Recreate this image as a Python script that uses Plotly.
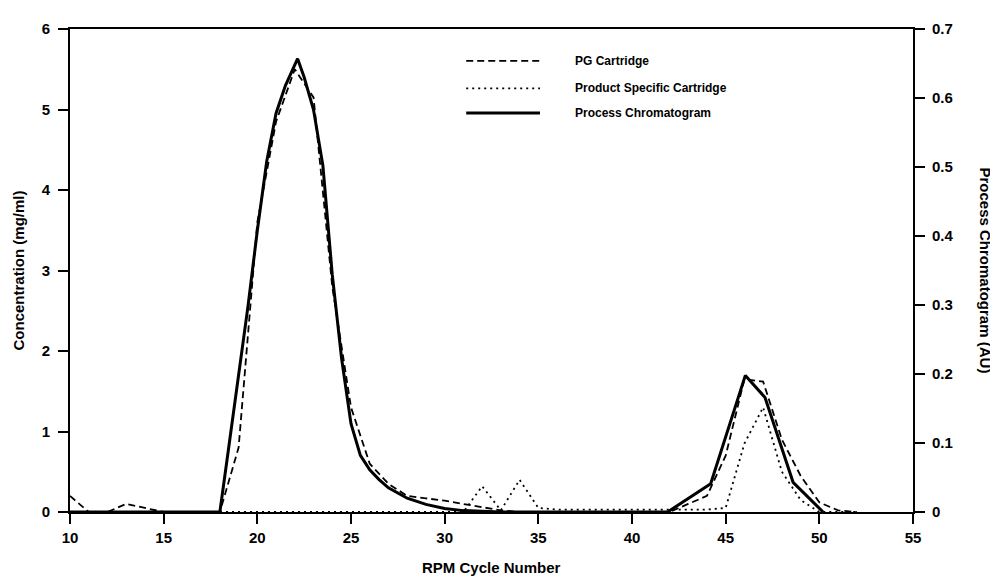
import plotly.graph_objects as go

# ---- data ----
cycles = list(range(10, 53))
pg_cartridge = [0.2, 0, 0, 0.1, 0.05, 0, 0, 0, 0, 0.8,
                3.6, 4.85, 5.5, 5.15, 2.8, 1.3, 0.6, 0.35, 0.2, 0.17,
                0.14, 0.1, 0.06, 0.02, 0, 0, 0, 0, 0, 0,
                0, 0, 0, 0.1, 0.2, 0.7, 1.65, 1.62, 0.9, 0.45,
                0.12, 0.02, 0]
product_specific = [0, 0, 0, 0, 0, 0, 0, 0, 0, 0,
                    0, 0, 0, 0, 0, 0, 0, 0, 0, 0,
                    0, 0, 0.32, 0.02, 0.4, 0.05, 0.03, 0.03, 0.03, 0.03,
                    0.03, 0.03, 0.03, 0.03, 0.03, 0.05, 0.85, 1.3, 0.5, 0.15,
                    0, 0, 0]
process_x = [10, 18, 18.5, 19, 19.5, 20, 20.5, 21, 21.5, 22.15, 22.5, 23, 23.5, 24,
             24.5, 25, 25.5, 26, 26.5, 27, 28, 29, 30, 31, 32, 33,
             41.9, 44.2, 46.05, 47.1, 48.6, 50.2]
process_au = [0, 0, 0.099, 0.198, 0.298, 0.408, 0.508, 0.578, 0.618, 0.657, 0.630, 0.583, 0.502, 0.344,
              0.222, 0.128, 0.082, 0.061, 0.047, 0.035, 0.020, 0.011, 0.005, 0.002, 0.001, 0,
              0, 0.041, 0.198, 0.166, 0.043, 0]

x_ticks = [10, 15, 20, 25, 30, 35, 40, 45, 50, 55]
left_ticks = [0, 1, 2, 3, 4, 5, 6]
right_ticks = [0, 0.1, 0.2, 0.3, 0.4, 0.5, 0.6, 0.7]
right_labels = ["0", "0.1", "0.2", "0.3", "0.4", "0.5", "0.6", "0.7"]

legend_names = ["PG Cartridge", "Product Specific Cartridge", "Process Chromatogram"]

FONT = "Liberation Sans Narrow, Arial Narrow, Liberation Sans, Arial, sans-serif"
DASH = "7px,4px"
DOT = "2px,4px"

fig = go.Figure()
fig.add_trace(go.Scatter(x=cycles, y=pg_cartridge, mode="lines", name=legend_names[0],
                         line=dict(color="black", width=1.8, dash=DASH)))
fig.add_trace(go.Scatter(x=cycles, y=product_specific, mode="lines", name=legend_names[1],
                         line=dict(color="black", width=1.8, dash=DOT)))
fig.add_trace(go.Scatter(x=process_x, y=process_au, mode="lines", name=legend_names[2],
                         yaxis="y2", line=dict(color="black", width=3)))

axis_common = dict(showline=True, linecolor="black", linewidth=2, ticks="outside",
                   ticklen=10, tickwidth=2, tickcolor="black", showgrid=False, zeroline=False,
                   tickfont=dict(family=FONT, size=15, color="black", weight="bold"))

# the page body adds an 8px offset; canvas sized so that the page is 998x580
fig.update_layout(
    width=990, height=572,
    margin=dict(l=62, r=85, t=16, b=68),
    paper_bgcolor="white", plot_bgcolor="white",
    showlegend=False,
    xaxis=dict(range=[10, 55], tickvals=x_ticks, mirror=True, ticklabelstandoff=1, **axis_common),
    yaxis=dict(range=[0, 6], tickvals=left_ticks, ticklabelstandoff=5, **axis_common),
    yaxis2=dict(range=[0, 0.7], tickvals=right_ticks, ticktext=right_labels, overlaying="y",
                side="right", ticklabelstandoff=4, **axis_common),
)

title_font = dict(family=FONT, size=15, color="black")
fig.add_annotation(x=0.5, y=0, xref="paper", yref="paper", xanchor="center", yanchor="middle",
                   yshift=-55, text="<b>RPM Cycle Number</b>", showarrow=False, font=title_font)
fig.add_annotation(x=0, y=0.5, xref="paper", yref="paper", xanchor="center", yanchor="middle",
                   xshift=-52, text="<b>Concentration (mg/ml)</b>", textangle=-90, showarrow=False,
                   font=title_font)
fig.add_annotation(x=1.0, y=0.5, xref="paper", yref="paper", xanchor="center", yanchor="middle",
                   xshift=72, text="<b>Process Chromatogram (AU)</b>", textangle=90, showarrow=False,
                   font=title_font)

# legend drawn as samples + labels
legend_rows = [0.934, 0.877, 0.826]
legend_dash = [DASH, DOT, "solid"]
legend_width = [1.8, 1.8, 3]
for name, yy, dash, w in zip(legend_names, legend_rows, legend_dash, legend_width):
    fig.add_shape(type="line", xref="paper", yref="paper", x0=0.470, x1=0.5575, y0=yy, y1=yy,
                  line=dict(color="black", width=w, dash=dash))
    fig.add_annotation(x=0.597, y=yy, xref="paper", yref="paper", xanchor="left", yanchor="middle",
                       text="<b>" + name + "</b>", showarrow=False,
                       font=dict(family=FONT, size=12, color="black"))

fig.write_html("out.html")
